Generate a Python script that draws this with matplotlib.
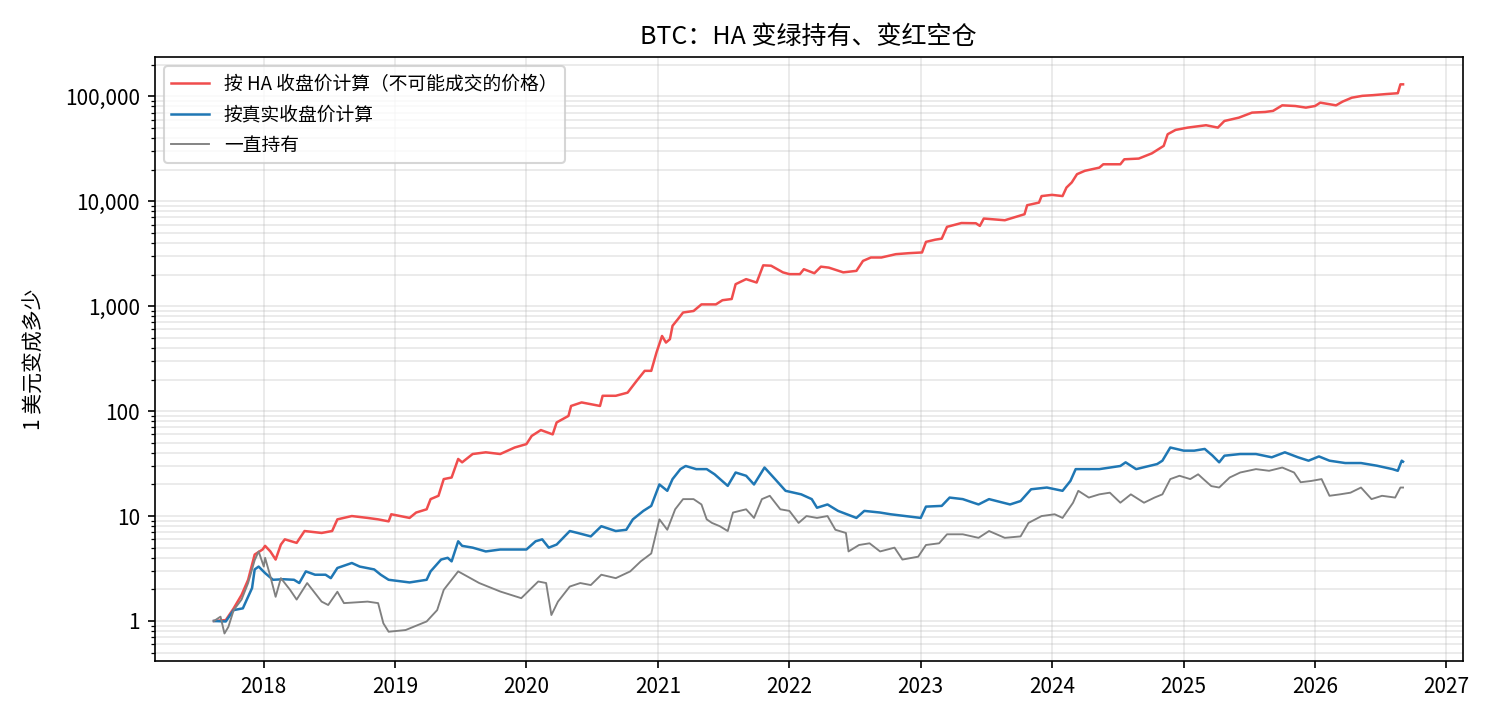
from datetime import datetime, timedelta

import matplotlib
matplotlib.use('Agg')
import matplotlib.pyplot as plt
from matplotlib.ticker import FuncFormatter, LogLocator, NullFormatter

plt.rcParams['font.family'] = ['Noto Sans CJK SC', 'DejaVu Sans']
plt.rcParams['axes.unicode_minus'] = False

# values (x as decimal years)
ha_years = [2017.62, 2017.71, 2017.77, 2017.83, 2017.88, 2017.93, 2017.99,
            2018.01, 2018.05, 2018.09, 2018.13, 2018.16, 2018.25, 2018.31, 2018.44,
            2018.52, 2018.56, 2018.67, 2018.79, 2018.87, 2018.95, 2018.97,
            2019.11, 2019.16, 2019.24, 2019.27, 2019.33, 2019.37, 2019.43, 2019.48,
            2019.51, 2019.59, 2019.69, 2019.80, 2019.91,
            2020.00, 2020.04, 2020.11, 2020.20, 2020.23, 2020.32, 2020.34, 2020.42,
            2020.56, 2020.58, 2020.68, 2020.77, 2020.84, 2020.90, 2020.95, 2020.99,
            2021.03, 2021.06, 2021.09, 2021.11, 2021.15, 2021.19, 2021.27, 2021.33,
            2021.44, 2021.49, 2021.56, 2021.59, 2021.67, 2021.75, 2021.80, 2021.86, 2021.95,
            2022.00, 2022.08, 2022.11, 2022.19, 2022.24, 2022.30, 2022.41, 2022.51,
            2022.56, 2022.62, 2022.70, 2022.81, 2022.91,
            2023.01, 2023.04, 2023.11, 2023.16, 2023.20, 2023.31, 2023.42, 2023.45,
            2023.48, 2023.54, 2023.64, 2023.75, 2023.79, 2023.81, 2023.90, 2023.92,
            2024.00, 2024.08, 2024.11, 2024.15, 2024.19, 2024.25, 2024.36, 2024.39,
            2024.52, 2024.55, 2024.66, 2024.76, 2024.81, 2024.85, 2024.88, 2024.94,
            2025.03, 2025.17, 2025.26, 2025.31, 2025.42, 2025.52, 2025.62, 2025.68,
            2025.75, 2025.85, 2025.93,
            2026.00, 2026.04, 2026.16, 2026.21, 2026.28, 2026.36, 2026.44, 2026.54,
            2026.63, 2026.65, 2026.67]
ha_values = [1.0, 1.02, 1.32, 1.77, 2.47, 4.3, 4.8,
             5.2, 4.6, 3.85, 5.35, 6.0, 5.55, 7.2, 6.9,
             7.2, 9.3, 10, 9.6, 9.3, 8.9, 10.4,
             9.6, 10.8, 11.6, 14.5, 15.6, 22.5, 23.3, 35,
             32.5, 39, 40.5, 39, 45,
             48.5, 58, 66, 60, 78, 90, 112, 121,
             112, 140, 140, 150, 195, 242, 242, 362,
             520, 450, 485, 650, 750, 870, 900, 1040,
             1040, 1140, 1170, 1620, 1810, 1680, 2450, 2430, 2100,
             2020, 2020, 2250, 2060, 2380, 2330, 2100, 2170,
             2700, 2910, 2910, 3130, 3200,
             3250, 4100, 4300, 4400, 5700, 6200, 6170, 5820,
             6840, 6740, 6590, 7250, 7520, 9160, 9710, 11200,
             11500, 11200, 13500, 15100, 18100, 19500, 20900, 22500,
             22500, 25100, 25500, 28600, 31300, 33700, 43500, 47800,
             50300, 53000, 50300, 58200, 62600, 69900, 70900, 72600,
             82000, 80800, 78000,
             80800, 87000, 82000, 89000, 97000, 101000, 102500, 105000,
             107000, 130000, 130000]

real_years = [2017.62, 2017.71, 2017.77, 2017.84, 2017.87, 2017.91, 2017.93, 2017.96,
              2018.01, 2018.07, 2018.15, 2018.23, 2018.27, 2018.32, 2018.39, 2018.47,
              2018.51, 2018.56, 2018.67, 2018.73, 2018.84, 2018.89, 2018.95,
              2019.11, 2019.24, 2019.27, 2019.35, 2019.40, 2019.43, 2019.48, 2019.51,
              2019.59, 2019.69, 2019.80, 2019.91,
              2020.00, 2020.07, 2020.12, 2020.17, 2020.23, 2020.33, 2020.39, 2020.49,
              2020.57, 2020.68, 2020.76, 2020.81, 2020.89, 2020.95,
              2021.01, 2021.07, 2021.11, 2021.17, 2021.21, 2021.29, 2021.37, 2021.43,
              2021.53, 2021.59, 2021.67, 2021.73, 2021.81, 2021.89, 2021.97,
              2022.09, 2022.17, 2022.21, 2022.29, 2022.37, 2022.51, 2022.57, 2022.69, 2022.77,
              2023.00, 2023.04, 2023.16, 2023.22, 2023.32, 2023.44, 2023.52, 2023.68,
              2023.76, 2023.84, 2023.96,
              2024.08, 2024.14, 2024.18, 2024.36, 2024.52, 2024.56, 2024.64, 2024.80,
              2024.84, 2024.90,
              2025.00, 2025.08, 2025.16, 2025.22, 2025.27, 2025.31, 2025.43, 2025.55,
              2025.67, 2025.77, 2025.87, 2025.95,
              2026.03, 2026.11, 2026.23, 2026.35, 2026.47, 2026.59, 2026.63, 2026.66, 2026.67]
real_values = [1.0, 0.99, 1.27, 1.32, 1.6, 2.06, 3.1, 3.3,
               2.86, 2.47, 2.5, 2.47, 2.3, 2.97, 2.76, 2.76,
               2.56, 3.2, 3.57, 3.3, 3.1, 2.76, 2.47,
               2.33, 2.47, 2.97, 3.85, 4.0, 3.7, 5.75, 5.2,
               5.0, 4.6, 4.8, 4.8,
               4.8, 5.75, 6.0, 5.0, 5.35, 7.2, 6.9, 6.4,
               8.0, 7.2, 7.4, 9.3, 11.2, 12.5,
               20, 17.4, 22.5, 28, 30, 28, 28, 25,
               19.4, 26, 24.2, 20, 29, 22.5, 17.4,
               16.1, 14.5, 12, 12.9, 11.2, 9.6, 11.2, 10.8, 10.4,
               9.6, 12.3, 12.5, 15, 14.5, 12.9, 14.5, 12.9,
               13.9, 18, 18.7,
               17.4, 21.6, 28, 28, 30, 32.5, 28, 31.3,
               33.7, 45,
               42, 42, 43.6, 37.6, 32.5, 37.6, 39, 39,
               36.3, 40.5, 36.3, 33.7,
               37, 33.7, 32, 32, 30.2, 28, 27, 33.7, 33]

hold_years = [2017.62, 2017.67, 2017.70, 2017.73, 2017.77, 2017.83, 2017.88, 2017.93, 2017.96,
              2018.00, 2018.01, 2018.05, 2018.09, 2018.13, 2018.20, 2018.25, 2018.33,
              2018.44, 2018.49, 2018.56, 2018.61, 2018.79, 2018.87, 2018.91, 2018.95,
              2019.08, 2019.24, 2019.32, 2019.37, 2019.48, 2019.64, 2019.80, 2019.96,
              2020.09, 2020.15, 2020.19, 2020.24, 2020.33, 2020.41, 2020.49, 2020.57,
              2020.68, 2020.79, 2020.87, 2020.95,
              2021.01, 2021.07, 2021.13, 2021.19, 2021.27, 2021.33, 2021.37, 2021.41,
              2021.47, 2021.53, 2021.57, 2021.67, 2021.73, 2021.79, 2021.85, 2021.93,
              2022.00, 2022.07, 2022.13, 2022.21, 2022.29, 2022.35, 2022.43, 2022.45,
              2022.53, 2022.61, 2022.69, 2022.80, 2022.86, 2022.98,
              2023.04, 2023.14, 2023.20, 2023.32, 2023.44, 2023.52, 2023.64, 2023.76,
              2023.82, 2023.92,
              2024.02, 2024.08, 2024.16, 2024.20, 2024.28, 2024.36, 2024.44, 2024.52,
              2024.60, 2024.70, 2024.78, 2024.84, 2024.90, 2024.97,
              2025.05, 2025.11, 2025.15, 2025.21, 2025.27, 2025.35, 2025.43, 2025.55,
              2025.65, 2025.75, 2025.84, 2025.89, 2025.97,
              2026.05, 2026.11, 2026.19, 2026.27, 2026.35, 2026.43, 2026.51, 2026.61,
              2026.65, 2026.67]
hold_values = [1.0, 1.1, 0.76, 0.88, 1.27, 1.6, 2.3, 3.8, 4.6,
               3.3, 4.0, 2.66, 1.7, 2.56, 1.98, 1.6, 2.3,
               1.53, 1.42, 1.9, 1.48, 1.53, 1.48, 0.95, 0.79,
               0.82, 0.99, 1.27, 1.98, 2.97, 2.3, 1.91, 1.65,
               2.38, 2.3, 1.14, 1.53, 2.13, 2.3, 2.2, 2.76,
               2.56, 2.97, 3.7, 4.4,
               9.3, 7.4, 11.6, 14.5, 14.5, 12.9, 9.3, 8.6,
               8.0, 7.2, 10.8, 11.6, 9.6, 14.5, 15.6, 11.6,
               11.2, 8.6, 10, 9.6, 10, 7.4, 6.9, 4.6,
               5.3, 5.5, 4.6, 5.0, 3.85, 4.1,
               5.3, 5.5, 6.7, 6.7, 6.2, 7.2, 6.2, 6.4,
               8.6, 10,
               10.4, 9.6, 13.4, 17.4, 15, 16.1, 16.7, 13.4,
               16.1, 13.4, 15, 16.1, 22.5, 24.2,
               22.5, 25, 22.5, 19.3, 18.7, 23.3, 26, 28,
               27, 29, 26, 21, 21.6,
               22.5, 15.6, 16.1, 16.7, 18.7, 14.5, 15.6, 15,
               18.7, 18.7]


def to_dates(years):
    out = []
    for y in years:
        start = datetime(int(y), 1, 1)
        out.append(start + timedelta(days=(y - int(y)) * 365.25))
    return out


fig = plt.figure(figsize=(10, 4.8), dpi=150)
ax = fig.add_axes([0.103, 0.082, 0.872, 0.839])

ax.plot(to_dates(ha_years), ha_values, color='#f04d4d', lw=1.2,
        label='按 HA 收盘价计算（不可能成交的价格）')
ax.plot(to_dates(real_years), real_values, color='#1f77b4', lw=1.2,
        label='按真实收盘价计算')
ax.plot(to_dates(hold_years), hold_values, color='gray', lw=0.9,
        label='一直持有')

ax.set_yscale('log')
ax.yaxis.set_major_locator(LogLocator(base=10))
ax.yaxis.set_major_formatter(FuncFormatter(lambda v, p: f'{v:,.0f}'))
ax.yaxis.set_minor_formatter(NullFormatter())

ax.grid(True, which='both', alpha=0.3)
ax.set_title('BTC：HA 变绿持有、变红空仓')
ax.set_ylabel('1 美元变成多少', labelpad=9)
ax.legend(loc='upper left', fontsize=9)

fig.savefig('out.png', dpi=150)
